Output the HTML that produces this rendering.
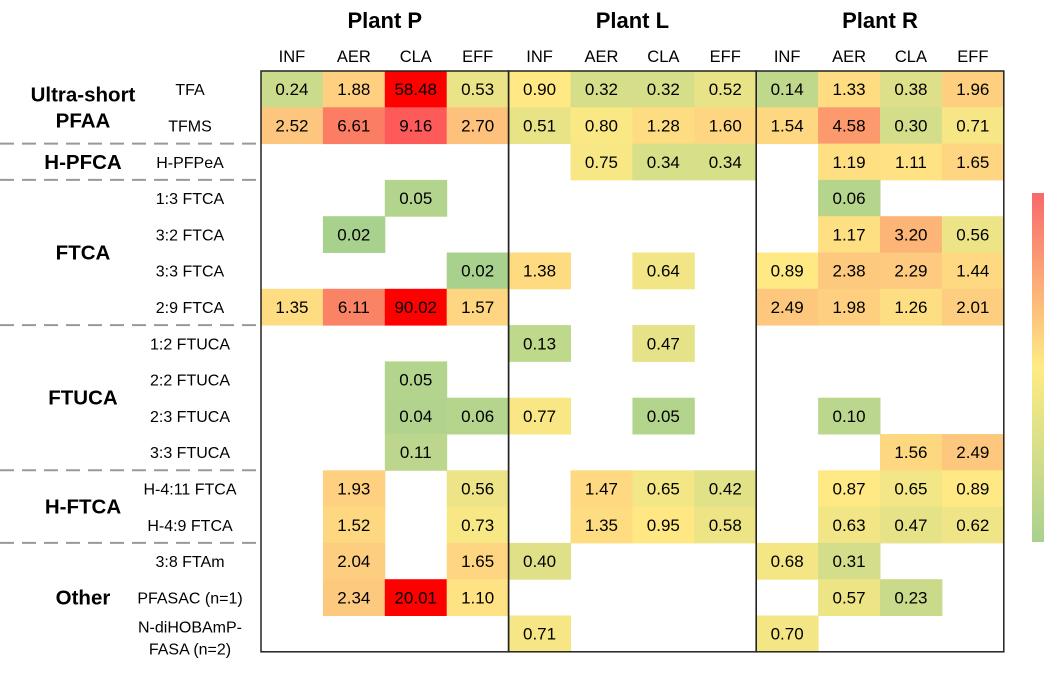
<!DOCTYPE html>
<html><head><meta charset="utf-8"><style>
body{margin:0;background:#fff;}
svg{display:block;font-family:"Liberation Sans",Arial,sans-serif;}
</style></head><body>
<svg id="c" width="1050" height="675"></svg>
<script>
const plants=["Plant P","Plant L","Plant R"];
const stages=["INF","AER","CLA","EFF"];
const rowLabels=["TFA","TFMS","H-PFPeA","1:3  FTCA","3:2 FTCA","3:3  FTCA","2:9 FTCA","1:2 FTUCA","2:2 FTUCA","2:3 FTUCA","3:3 FTUCA","H-4:11 FTCA","H-4:9 FTCA","3:8 FTAm","PFASAC (n=1)","N-diHOBAmP-|FASA (n=2)"];
const groups=[["Ultra-short|PFAA",0,2],["H-PFCA",2,3],["FTCA",3,7],["FTUCA",7,11],["H-FTCA",11,13],["Other",13,16]];
const N=null;
const values=[
[.24,1.88,58.48,.53,.90,.32,.32,.52,.14,1.33,.38,1.96],
[2.52,6.61,9.16,2.70,.51,.80,1.28,1.60,1.54,4.58,.30,.71],
[N,N,N,N,N,.75,.34,.34,N,1.19,1.11,1.65],
[N,N,.05,N,N,N,N,N,N,.06,N,N],
[N,.02,N,N,N,N,N,N,N,1.17,3.20,.56],
[N,N,N,.02,1.38,N,.64,N,.89,2.38,2.29,1.44],
[1.35,6.11,90.02,1.57,N,N,N,N,2.49,1.98,1.26,2.01],
[N,N,N,N,.13,N,.47,N,N,N,N,N],
[N,N,.05,N,N,N,N,N,N,N,N,N],
[N,N,.04,.06,.77,N,.05,N,N,.10,N,N],
[N,N,.11,N,N,N,N,N,N,N,1.56,2.49],
[N,1.93,N,.56,N,1.47,.65,.42,N,.87,.65,.89],
[N,1.52,N,.73,N,1.35,.95,.58,N,.63,.47,.62],
[N,2.04,N,1.65,.40,N,N,N,.68,.31,N,N],
[N,2.34,20.01,1.10,N,N,N,N,N,.57,.23,N],
[N,N,N,N,.71,N,N,N,.70,N,N,N]];
const stops=[[0.02,[169,209,142]],[0.2,[195,217,140]],[0.9,[255,233,132]],[2.5,[253,199,126]],[6.6,[251,125,99]],[9.2,[255,90,90]],[20,[255,0,0]]];
function color(v){const l=Math.log10(v);
 if(v<=stops[0][0])return rgb(stops[0][1]);
 for(let i=1;i<stops.length;i++){if(v<=stops[i][0]){const a=Math.log10(stops[i-1][0]),b=Math.log10(stops[i][0]);const t=(l-a)/(b-a);return rgb(stops[i-1][1].map((c,k)=>c+(stops[i][1][k]-c)*t));}}
 return rgb(stops[stops.length-1][1]);}
function rgb(a){return "rgb("+a.map(Math.round).join(",")+")";}
const X0=261,CW=61.9,Y0=71,RH=36.3;
const xPos=i=>X0+i*CW, yPos=r=>Y0+r*RH;
const svg=document.getElementById('c');const NS="http://www.w3.org/2000/svg";
function el(t,a,p){const e=document.createElementNS(NS,t);for(const k in a)e.setAttribute(k,a[k]);(p||svg).appendChild(e);return e;}
groups.slice(0,-1).forEach(g=>{const l=el('line',{x1:0,x2:X0,y1:yPos(g[2]),y2:yPos(g[2]),stroke:'#999','stroke-width':2,'stroke-dasharray':'14,8'});

});
values.forEach((row,r)=>row.forEach((v,c)=>{if(v===null)return;
 const g=el('g',{});
 
 
 el('rect',{x:xPos(c),y:yPos(r),width:CW+0.5,height:RH+0.5,fill:color(v)},g);
 const t=el('text',{x:xPos(c)+CW/2,y:yPos(r)+RH/2+6,'text-anchor':'middle','font-size':17,fill:'#000'},g);t.textContent=v.toFixed(2);}));
[0,4,8].forEach((c,i)=>{const b=el('rect',{x:xPos(c),y:Y0,width:CW*4,height:RH*16,fill:'none',stroke:'#222','stroke-width':1.5});


const t=el('text',{x:xPos(c)+CW*2,y:28,'text-anchor':'middle','font-size':22,'font-weight':'bold'});t.textContent=plants[i];


stages.forEach((s,k)=>{const h=el('text',{x:xPos(c+k)+CW/2,y:62,'text-anchor':'middle','font-size':16.5});h.textContent=s;

});});
rowLabels.forEach((s,r)=>{const parts=s.split('|');parts.forEach((p,k)=>{const t=el('text',{x:190,y:yPos(r)+RH/2+6+(parts.length>1?(k-0.5)*22+4:0),'text-anchor':'middle','font-size':16,'xml:space':'preserve'});t.textContent=p;

});});
groups.forEach(g=>{const parts=g[0].split('|');const cy=(yPos(g[1])+yPos(g[2]))/2;parts.forEach((p,k)=>{const t=el('text',{x:83,y:cy+7+(parts.length>1?(k-0.5)*26:0),'text-anchor':'middle','font-size':20.5,'font-weight':'bold'});t.textContent=p;

});});
const defs=el('defs',{});const lg=el('linearGradient',{id:'cb',x1:0,y1:0,x2:0,y2:1},defs);
[['0','#f8696b'],['0.5','#ffeb84'],['1','#a9d18e']].forEach(s=>el('stop',{offset:s[0],'stop-color':s[1]},lg));
const cb=el('rect',{x:1032,y:193,width:12,height:349,fill:'url(#cb)'});


</script>
</body></html>
